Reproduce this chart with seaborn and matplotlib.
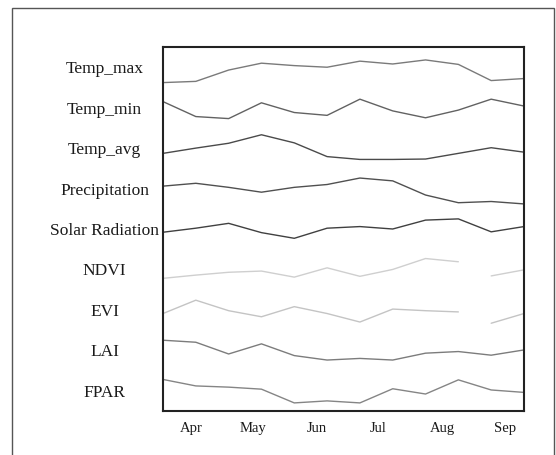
import pandas as pd
import numpy as np
import seaborn as sns
import matplotlib.pyplot as plt
import matplotlib.dates as mdates
from matplotlib.patches import Rectangle

# =============================
# Data (relative level inside each row, 0 = row bottom, 1 = row top)
# =============================
variables = ["Temp_max", "Temp_min", "Temp_avg", "Precipitation", "Solar Radiation",
             "NDVI", "EVI", "LAI", "FPAR"]

dates = pd.date_range("2021-03-18", periods=12, freq="16D")
month_labels = ["Apr", "May", "Jun", "Jul", "Aug", "Sep"]

temp_max = [0.12, 0.15, 0.43, 0.60, 0.54, 0.50, 0.65, 0.58, 0.68, 0.57, 0.17, 0.22]
temp_min = [0.65, 0.28, 0.23, 0.62, 0.38, 0.31, 0.71, 0.42, 0.25, 0.44, 0.71, 0.54]
temp_avg = [0.37, 0.50, 0.62, 0.83, 0.63, 0.29, 0.22, 0.22, 0.23, 0.37, 0.51, 0.40]
precip = [0.56, 0.63, 0.53, 0.41, 0.53, 0.60, 0.76, 0.69, 0.34, 0.15, 0.18, 0.12]
solar = [0.42, 0.52, 0.64, 0.41, 0.27, 0.52, 0.56, 0.50, 0.72, 0.75, 0.43, 0.56]
ndvi = [0.28, 0.36, 0.43, 0.46, 0.31, 0.54, 0.33, 0.50, 0.77, 0.69, 0.34, 0.49]
evi = [0.41, 0.74, 0.48, 0.33, 0.58, 0.41, 0.20, 0.52, 0.48, 0.45, 0.17, 0.41]
lai = [0.75, 0.70, 0.41, 0.66, 0.37, 0.26, 0.30, 0.26, 0.43, 0.47, 0.38, 0.51]
fpar = [0.78, 0.62, 0.59, 0.54, 0.20, 0.25, 0.20, 0.55, 0.42, 0.77, 0.52, 0.46]

# missing observation between the Aug composites of the vegetation indices
gap_after = {"NDVI": 9, "EVI": 9}

series = [temp_max, temp_min, temp_avg, precip, solar, ndvi, evi, lai, fpar]
colors = ["#7a7a7a", "#626262", "#4a4a4a", "#505050", "#404040",
          "#cfcfcf", "#c4c4c4", "#7c7c7c", "#858585"]

# =============================
# Long table, one row band per variable
# =============================
rows = []
n = len(variables)
for i, (name, vals) in enumerate(zip(variables, series)):
    offset = n - 1 - i
    for j, (d, v) in enumerate(zip(dates, vals)):
        seg = 1 if (name in gap_after and j > gap_after[name]) else 0
        rows.append({"date": d, "variable": name, "level": offset + v,
                     "unit": f"{name}_{seg}"})
df = pd.DataFrame(rows)

# =============================
# Plot
# =============================
sns.set_style("white")
plt.rcParams["font.family"] = ["Liberation Serif", "DejaVu Serif"]

fig = plt.figure(figsize=(5.56, 4.55), dpi=100)
ax = fig.add_axes([163 / 556, 1 - 411 / 455, 361 / 556, 364 / 455])

sns.lineplot(data=df, x="date", y="level", hue="variable", units="unit",
             estimator=None, palette=dict(zip(variables, colors)),
             linewidth=1.0, legend=False, ax=ax)

ax.set_xlim(dates[0], dates[-1])
ax.set_ylim(0, n)
ax.set_yticks([n - 1 - i + 0.5 for i in range(n)])
ax.set_yticklabels(variables, ha="center", fontsize=12.5, color="#1a1a1a")
ax.tick_params(axis="y", length=0, pad=42)

ax.xaxis.set_major_locator(mdates.MonthLocator(bymonth=range(4, 10)))
ax.xaxis.set_major_formatter(mdates.DateFormatter("%b"))
ax.tick_params(axis="x", length=0, pad=8, labelsize=10.5, labelcolor="#1a1a1a")
ax.set_xlabel("")
ax.set_ylabel("")

for s in ax.spines.values():
    s.set_visible(True)
    s.set_color("#222222")
    s.set_linewidth(1.5)

# outer frame, cut off at the bottom edge
fig.patches.append(Rectangle((12 / 556, -0.05), 542 / 556, 1.05 - 8 / 455,
                             transform=fig.transFigure, fill=False,
                             edgecolor="#555555", linewidth=1.0))

fig.savefig("out.png", dpi=100)
